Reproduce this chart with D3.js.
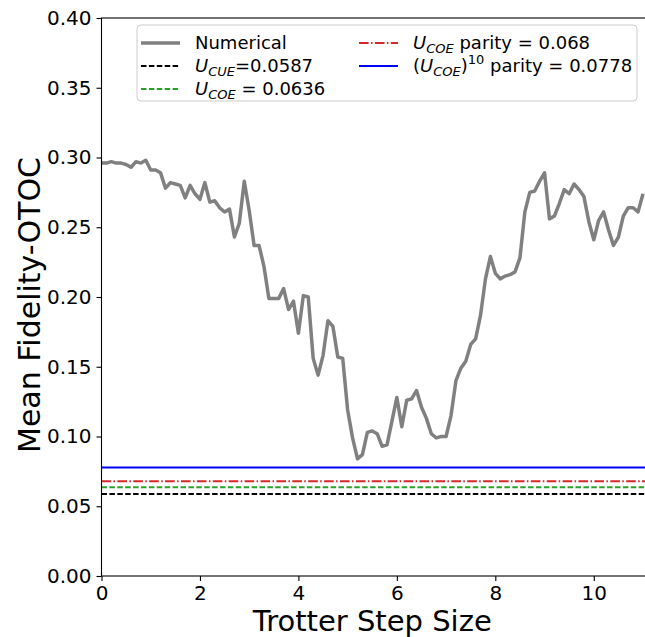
<!DOCTYPE html>
<html>
<head>
<meta charset="utf-8">
<script src="https://cdn.jsdelivr.net/npm/d3@7"></script>
<style>
  body { margin: 0; background: #fff; }
  svg { font-family: "DejaVu Sans", sans-serif; }
</style>
</head>
<body>
<div id="chart"></div>
<script>
// Trotter step sizes (x) and mean fidelity-OTOC values (y)
var steps = [0.0, 0.1, 0.2, 0.3, 0.4, 0.5, 0.6, 0.7, 0.8, 0.9,
  1.0, 1.1, 1.2, 1.3, 1.4, 1.5, 1.6, 1.7, 1.8, 1.9,
  2.0, 2.1, 2.2, 2.3, 2.4, 2.5, 2.6, 2.7, 2.8, 2.9,
  3.0, 3.1, 3.2, 3.3, 3.4, 3.5, 3.6, 3.7, 3.8, 3.9,
  4.0, 4.1, 4.2, 4.3, 4.4, 4.5, 4.6, 4.7, 4.8, 4.9,
  5.0, 5.1, 5.2, 5.3, 5.4, 5.5, 5.6, 5.7, 5.8, 5.9,
  6.0, 6.1, 6.2, 6.3, 6.4, 6.5, 6.6, 6.7, 6.8, 6.9,
  7.0, 7.1, 7.2, 7.3, 7.4, 7.5, 7.6, 7.7, 7.8, 7.9,
  8.0, 8.1, 8.2, 8.3, 8.4, 8.5, 8.6, 8.7, 8.8, 8.9,
  9.0, 9.1, 9.2, 9.3, 9.4, 9.5, 9.6, 9.7, 9.8, 9.9,
  10.0, 10.1, 10.2, 10.3, 10.4, 10.5, 10.6, 10.7, 10.8, 10.9, 11.0];

var fidelity = [0.296, 0.296, 0.297, 0.296, 0.296, 0.295, 0.293, 0.297, 0.296, 0.298,
  0.291, 0.291, 0.289, 0.278, 0.282, 0.281, 0.280, 0.271, 0.280, 0.274,
  0.270, 0.282, 0.268, 0.269, 0.264, 0.261, 0.263, 0.243, 0.253, 0.283,
  0.262, 0.237, 0.237, 0.222, 0.199, 0.199, 0.199, 0.206, 0.191, 0.197,
  0.174, 0.201, 0.200, 0.156, 0.144, 0.158, 0.183, 0.179, 0.157, 0.156,
  0.119, 0.099, 0.084, 0.087, 0.103, 0.104, 0.102, 0.093, 0.094, 0.111,
  0.128, 0.107, 0.126, 0.127, 0.133, 0.121, 0.113, 0.102, 0.099, 0.100,
  0.100, 0.115, 0.140, 0.149, 0.154, 0.166, 0.170, 0.187, 0.213, 0.229,
  0.217, 0.213, 0.215, 0.216, 0.218, 0.228, 0.261, 0.275, 0.276, 0.283,
  0.289, 0.256, 0.258, 0.267, 0.277, 0.274, 0.281, 0.277, 0.272, 0.254,
  0.241, 0.255, 0.261, 0.248, 0.237, 0.243, 0.258, 0.264, 0.264, 0.261, 0.274];

// reference levels
var refValues = [0.0587, 0.0636, 0.068, 0.0778];
var refColors = ['#000000', '#2ca02c', '#d62728', '#0000ff'];
var refDash = ['5.5,2.4', '5.5,2.4', '9.6,2.4,1.5,2.4', null];

var xTicks = [0, 2, 4, 6, 8, 10];
var yTicks = [0, 0.05, 0.10, 0.15, 0.20, 0.25, 0.30, 0.35, 0.40];

var svgWidth = 645;
var svgHeight = 637;

var margin = { top: 18, right: 2, bottom: 61, left: 101.5 };
var chartHeight = svgHeight - margin.top - margin.bottom;
var plotRight = 643; // where x = 11 sits

var svg = d3.select('#chart')
  .append('svg')
  .attr('width', svgWidth)
  .attr('height', svgHeight);

var chartGroup = svg.append('g')
  .attr('transform', `translate(${margin.left}, ${margin.top})`);

var xScale = d3.scaleLinear()
  .domain([0, 11])
  .range([0, plotRight - margin.left]);

var yScale = d3.scaleLinear()
  .domain([0, 0.40])
  .range([chartHeight, 0]);

var frameWidth = svgWidth - margin.left + 5;

// reference lines
refValues.forEach(function(v, i) {
  chartGroup.append('line')
    .attr('x1', 0)
    .attr('x2', frameWidth)
    .attr('y1', yScale(v))
    .attr('y2', yScale(v))
    .attr('stroke', refColors[i])
    .attr('stroke-width', 2)
    .attr('stroke-dasharray', refDash[i]);
});

// numerical curve
var line = d3.line()
  .x((d, i) => xScale(steps[i]))
  .y(d => yScale(d));

chartGroup.append('path')
  .datum(fidelity)
  .attr('d', line)
  .attr('fill', 'none')
  .attr('stroke', '#808080')
  .attr('stroke-width', 3.5)
  .attr('stroke-linejoin', 'round');

// axes
var xAxis = d3.axisBottom(xScale).tickValues(xTicks).tickSize(5).tickPadding(5).tickFormat(d3.format('d'));
var yAxis = d3.axisLeft(yScale).tickValues(yTicks).tickSize(5).tickPadding(5).tickFormat(d3.format('.2f'));

var gx = chartGroup.append('g')
  .attr('transform', `translate(0, ${chartHeight})`)
  .call(xAxis);
var gy = chartGroup.append('g').call(yAxis);

[gx, gy].forEach(function(g) {
  g.select('.domain').remove();
  g.selectAll('line').attr('stroke', '#000').attr('stroke-width', 1.1);
  g.selectAll('text').attr('font-size', '20px').attr('fill', '#000')
    .attr('font-family', '"DejaVu Sans", sans-serif');
});

// frame (right side falls off the picture)
chartGroup.append('rect')
  .attr('x', 0)
  .attr('y', 0)
  .attr('width', frameWidth)
  .attr('height', chartHeight)
  .attr('fill', 'none')
  .attr('stroke', '#000')
  .attr('stroke-width', 1.1);

// axis labels
svg.append('text')
  .attr('x', (margin.left + plotRight) / 2)
  .attr('y', 631)
  .attr('text-anchor', 'middle')
  .attr('font-size', '29px')
  .text('Trotter Step Size');

svg.append('text')
  .attr('transform', `translate(40, ${margin.top + chartHeight / 2 + 8}) rotate(-90)`)
  .attr('text-anchor', 'middle')
  .attr('font-size', '30px')
  .text('Mean Fidelity-OTOC');

// legend
var legend = svg.append('g');
legend.append('rect')
  .attr('x', 137)
  .attr('y', 25)
  .attr('width', 500)
  .attr('height', 76)
  .attr('rx', 4)
  .attr('fill', '#fff')
  .attr('fill-opacity', 0.8)
  .attr('stroke', '#ccc')
  .attr('stroke-width', 1);

var legendItems = [
  { col: 0, row: 0, color: '#808080', width: 3.5, dash: null, label: [['Numerical', '']] },
  { col: 0, row: 1, color: refColors[0], width: 2, dash: refDash[0],
    label: [['U', 'i'], ['CUE', 'sub'], ['=0.0587', '']] },
  { col: 0, row: 2, color: refColors[1], width: 2, dash: refDash[1],
    label: [['U', 'i'], ['COE', 'sub'], [' = 0.0636', '']] },
  { col: 1, row: 0, color: refColors[2], width: 2, dash: refDash[2],
    label: [['U', 'i'], ['COE', 'sub'], [' parity = 0.068', '']] },
  { col: 1, row: 1, color: refColors[3], width: 2, dash: refDash[3],
    label: [['(', ''], ['U', 'i'], ['COE', 'sub'], [')', ''], ['10', 'sup'], [' parity = 0.0778', '']] }
];

var colX = [141, 359];
var rowY = [43, 66, 89];

legendItems.forEach(function(item) {
  var x0 = colX[item.col];
  var y0 = rowY[item.row];
  legend.append('line')
    .attr('x1', x0)
    .attr('x2', x0 + 39)
    .attr('y1', y0)
    .attr('y2', y0)
    .attr('stroke', item.color)
    .attr('stroke-width', item.width)
    .attr('stroke-dasharray', item.dash);

  var t = legend.append('text')
    .attr('x', x0 + 54)
    .attr('y', y0 + 6)
    .attr('font-size', '18px');
  var shift = 0;
  item.label.forEach(function(part) {
    var span = t.append('tspan').text(part[0]);
    if (part[1] === 'i') {
      span.attr('font-style', 'italic');
    } else if (part[1] === 'sub') {
      span.attr('font-style', 'italic').attr('font-size', '13px').attr('dy', 4 - shift);
      shift = 4;
      return;
    } else if (part[1] === 'sup') {
      span.attr('font-size', '13px').attr('dy', -8 - shift);
      shift = -8;
      return;
    }
    if (shift !== 0) { span.attr('dy', -shift); shift = 0; }
  });
});
</script>
</body>
</html>
